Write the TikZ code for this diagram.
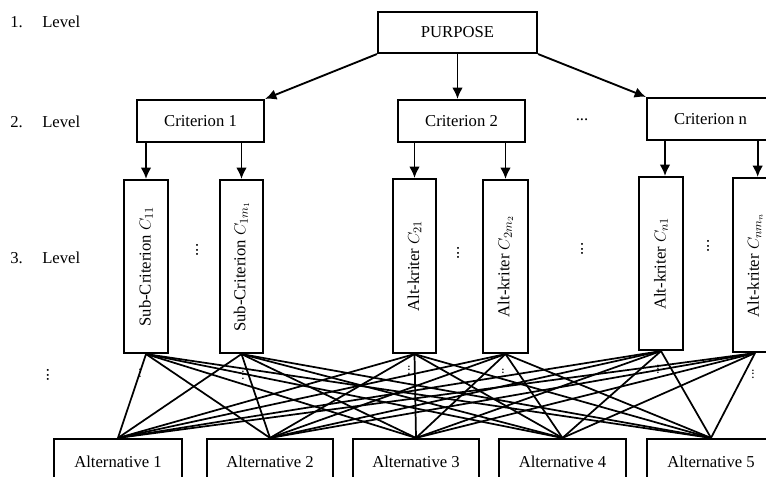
\documentclass[tikz,border=0pt]{standalone}
\usepackage{fontspec}
\setmainfont{Liberation Serif}
\usetikzlibrary{arrows.meta}
\begin{document}
\begin{tikzpicture}[x=0.75pt,y=-0.75pt,
  box/.style={draw,line width=1.6pt,inner sep=0pt,font=\fontsize{12.5}{15}\selectfont},
  sz/.style 2 args={minimum width=#1*0.75pt,minimum height=#2*0.75pt},
  link/.style={line width=1.3pt},
  arr/.style={line width=1.4pt,-{Latex[length=8.5pt,width=8pt]}},
  lbl/.style={font=\fontsize{12.5}{15}\selectfont,inner sep=0pt,anchor=west},
  dots/.style={inner sep=0pt,font=\fontsize{12.5}{15}\selectfont},
  sdots/.style={inner sep=0pt,font=\fontsize{10}{11}\selectfont}]
\useasboundingbox (0,0) rectangle (766,477);
\clip (0,0) rectangle (766,477);
% level labels
\node[lbl] (n1) at (10,22) {1.};
\node[lbl] (l1) at (42,22) {Level};
\node[lbl] (n2) at (10,122) {2.};
\node[lbl] (l2) at (42,122) {Level};
\node[lbl] (n3) at (10,258) {3.};
\node[lbl] (l3) at (42,258) {Level};
\node[dots] (ld) at (48,375) {\rotatebox{90}{...}};
% purpose
\node[box,sz={159}{41}] (p) at (457.5,32.5) {PURPOSE};
% criteria
\node[box,sz={127}{42}] (c1) at (200.5,121) {Criterion 1};
\node[box,sz={127}{42}] (c2) at (461.5,121) {Criterion 2};
\node[box,sz={127}{42}] (cn) at (710.5,119) {Criterion n};
\node[dots] (cd) at (582,120) {...};
% sub-criteria
\node[box,sz={44}{173}] (s1) at (146,266.5) {\rotatebox{90}{Sub-Criterion $C_{11}$}};
\node[box,sz={43}{173}] (s2) at (241.5,266.5) {\rotatebox{90}{Sub-Criterion $C_{1m_1}$}};
\node[box,sz={43}{174}] (s3) at (414.5,266) {\rotatebox{90}{Alt-kriter $C_{21}$}};
\node[box,sz={45}{173}] (s4) at (505.5,266.5) {\rotatebox{90}{Alt-kriter $C_{2m_2}$}};
\node[box,sz={44}{173}] (s5) at (661,263.5) {\rotatebox{90}{Alt-kriter $C_{n1}$}};
\node[box,sz={44}{174}] (s6) at (755,265) {\rotatebox{90}{Alt-kriter $C_{nm_n}$}};
\node[dots] (d1) at (197,250) {\rotatebox{90}{...}};
\node[dots] (d2) at (458,253) {\rotatebox{90}{...}};
\node[dots] (d3) at (582,249) {\rotatebox{90}{...}};
\node[dots] (d4) at (708,246) {\rotatebox{90}{...}};
% alternatives
\node[box,sz={128}{46}] (a1) at (118,462) {Alternative 1};
\node[box,sz={126}{46}] (a2) at (270,462) {Alternative 2};
\node[box,sz={126}{46}] (a3) at (416,462) {Alternative 3};
\node[box,sz={127}{46}] (a4) at (562.5,462) {Alternative 4};
\node[box,sz={128}{46}] (a5) at (711,462) {Alternative 5};
% arrows
\draw[arr] (p.south west) -- (c1.north east);
\draw[arr] (p.south) -- (p.south |- c2.north);
\draw[arr] (p.south east) -- (cn.north west);
\draw[arr] (s1.north |- c1.south) -- (s1.north);
\draw[arr] (s2.north |- c1.south) -- (s2.north);
\draw[arr] (s3.north |- c2.south) -- (s3.north);
\draw[arr] (s4.north |- c2.south) -- (s4.north);
\draw[arr] ([xshift=3]s5.north |- cn.south) -- ([xshift=3]s5.north);
\draw[arr] ([xshift=2]s6.north |- cn.south) -- ([xshift=2]s6.north);
% links
\foreach \s in {s1,s2,s3,s4,s5,s6}
  \foreach \a in {a1,a2,a3,a4,a5}
    \draw[link] (\s.south) -- (\a.north);
% small dots under boxes
\node[sdots] (u1) at (140,373) {\rotatebox{90}{...}};
\node[sdots] (u2) at (243,375) {\rotatebox{90}{...}};
\node[sdots] (u3) at (409,370) {\rotatebox{90}{...}};
\node[sdots] (u4) at (503,373) {\rotatebox{90}{...}};
\node[sdots] (u5) at (658,369) {\rotatebox{90}{...}};
\node[sdots] (u6) at (753,374) {\rotatebox{90}{...}};
\end{tikzpicture}
\end{document}
